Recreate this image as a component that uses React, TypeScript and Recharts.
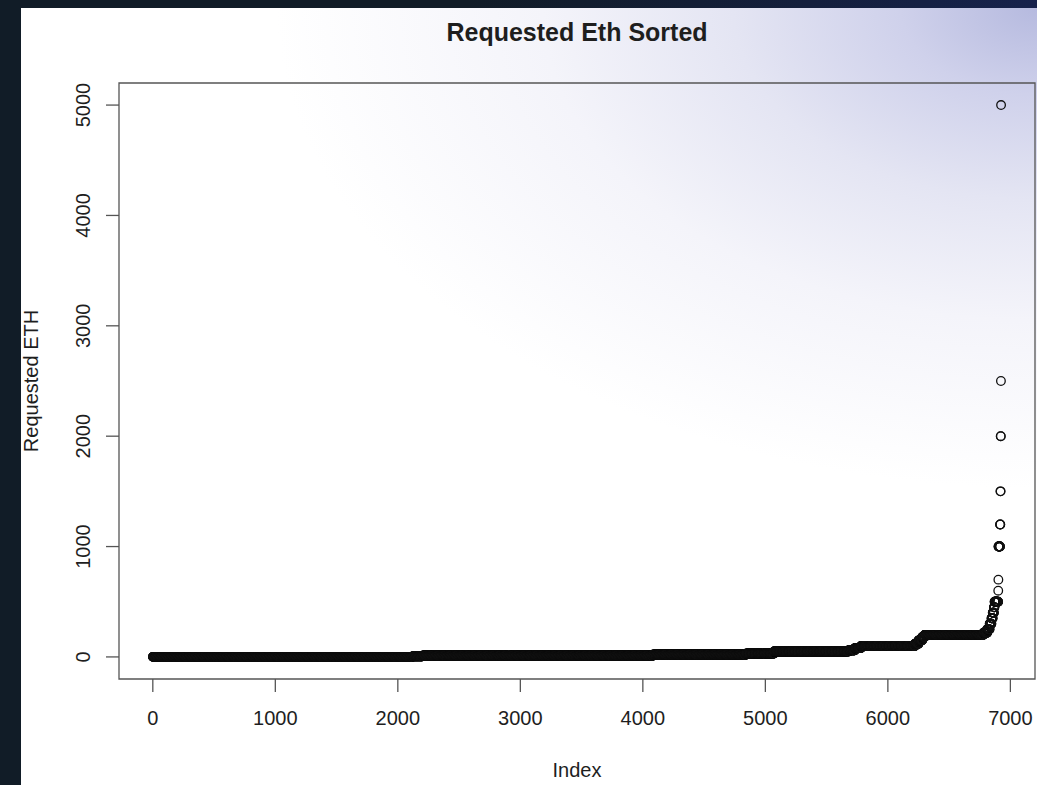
import React from "react";
import { ScatterChart, Scatter, XAxis, YAxis, ReferenceArea, Label } from "recharts";

const runFrom = [1, 2121, 2201, 4081, 4841, 5071, 5681, 5731, 5781, 6221, 6251, 6281, 6301, 6781, 6811, 6831, 6846, 6856, 6866, 6871, 6901, 6902, 6903, 6916, 6919, 6921, 6923, 6924];
const runTo = [2120, 2200, 4080, 4840, 5070, 5680, 5730, 5780, 6220, 6250, 6280, 6300, 6780, 6810, 6830, 6845, 6855, 6865, 6870, 6900, 6901, 6902, 6915, 6918, 6920, 6922, 6923, 6924];
const runValue = [0.5, 5, 10, 20, 30, 50, 60, 80, 100, 120, 150, 180, 200, 220, 250, 300, 350, 400, 450, 500, 600, 700, 1000, 1200, 1500, 2000, 2500, 5000];

const xTicks = [0, 1000, 2000, 3000, 4000, 5000, 6000, 7000];
const yTicks = [0, 1000, 2000, 3000, 4000, 5000];

const X_MIN = -276;
const X_MAX = 7201;
const Y_MIN = -200;
const Y_MAX = 5200;

const points: { x: number; y: number }[] = [];
runFrom.forEach((from, k) => {
  for (let i = from; i <= runTo[k]; i++) points.push({ x: i, y: runValue[k] });
});

const FONT = '"Liberation Sans", Arial, sans-serif';
const INK = "#1e1e1e";

const Ring = (p: any) => (
  <circle cx={p.cx} cy={p.cy} r={4.3} fill="none" stroke="#111" strokeWidth={1.3} />
);

const YTick = (p: any) => (
  <text
    x={p.x}
    y={p.y}
    transform={`rotate(-90, ${p.x}, ${p.y})`}
    textAnchor="middle"
    fontSize={20}
    fontFamily={FONT}
    fill={INK}
  >
    {p.payload.value}
  </text>
);

export default function App() {
  return (
    <div
      style={{
        position: "fixed",
        left: 0,
        top: 0,
        width: 1037,
        height: 785,
        background: "linear-gradient(90deg, #111c27 0%, #111c27 45%, #16214b 100%)",
        fontFamily: FONT,
      }}
    >
      <div
        style={{
          position: "absolute",
          left: 21,
          top: 8,
          width: 1016,
          height: 777,
          background:
            "radial-gradient(760px 480px at 100% 0%, #b6badf 0%, #cfd1eb 18%, #e4e5f3 40%, #f4f4fa 65%, #ffffff 100%)",
        }}
      >
        <div
          style={{
            position: "absolute",
            left: 98,
            width: 916,
            top: 10,
            textAlign: "center",
            fontWeight: "bold",
            fontSize: 25,
            color: INK,
          }}
        >
          Requested Eth Sorted
        </div>
        <ScatterChart width={1016} height={777} margin={{ top: 75, right: 2, bottom: 6, left: 8 }}>
          <XAxis
            type="number"
            dataKey="x"
            domain={[X_MIN, X_MAX]}
            ticks={xTicks}
            allowDataOverflow
            height={100}
            axisLine={false}
            tickSize={13}
            tickMargin={19}
            tickLine={{ stroke: "#555", strokeWidth: 1.3 }}
            tick={{ fontSize: 20, fill: INK, fontFamily: FONT }}
          >
            <Label
              content={(props: any) => {
                const vb = props.viewBox;
                return (
                  <text x={vb.x + vb.width / 2} y={vb.y + 98} textAnchor="middle" fontSize={20} fontFamily={FONT} fill={INK}>
                    Index
                  </text>
                );
              }}
            />
          </XAxis>
          <YAxis
            type="number"
            dataKey="y"
            domain={[Y_MIN, Y_MAX]}
            ticks={yTicks}
            allowDataOverflow
            width={90}
            axisLine={false}
            tickSize={13}
            tickMargin={16}
            tickLine={{ stroke: "#555", strokeWidth: 1.3 }}
            tick={<YTick />}
          >
            <Label
              content={(props: any) => {
                const vb = props.viewBox;
                const cx = vb.x + 9;
                const cy = vb.y + vb.height / 2;
                return (
                  <text x={cx} y={cy} transform={`rotate(-90, ${cx}, ${cy})`} textAnchor="middle" fontSize={20} fontFamily={FONT} fill={INK}>
                    Requested ETH
                  </text>
                );
              }}
            />
          </YAxis>
          <ReferenceArea x1={X_MIN} x2={X_MAX} y1={Y_MIN} y2={Y_MAX} fill="none" stroke="#555" strokeWidth={1.3} />
          <Scatter data={points} dataKey="y" shape={Ring} isAnimationActive={false} />
        </ScatterChart>
      </div>
    </div>
  );
}
